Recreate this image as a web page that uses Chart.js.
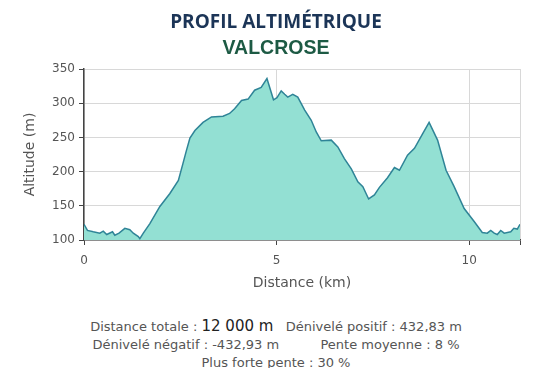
<!DOCTYPE html>
<html>
<head>
<meta charset="utf-8">
<script src="https://cdn.jsdelivr.net/npm/chart.js@4"></script>
<style>
  body { margin: 0; background: #fff; }
  #page { position: relative; width: 550px; height: 368px; overflow: hidden; }
  .title { position: absolute; left: 0; width: 552px; text-align: center; font-weight: bold; }
  #t1 { top: 8px; font-family: "Open Sans", sans-serif; font-size: 19px; color: #1c3557; }
  #t2 { top: 36px; font-family: "Liberation Sans", Arial, sans-serif; font-size: 19.5px; color: #1d5a44; }
  #wrap { position: absolute; left: 0; top: 0; width: 550px; height: 300px; }
  #stats { position: absolute; left: 0; top: 317px; width: 552px; text-align: center;
           font-family: "DejaVu Sans", Verdana, sans-serif; font-size: 13px; color: #555; line-height: 18px; }
  #stats b { font-weight: normal; font-size: 15px; color: #222; }
  #stats u { color: #555; }
</style>
</head>
<body>
<div id="page">
  <div id="wrap"><canvas id="profile" width="550" height="300"></canvas></div>
  <div class="title" id="t1">PROFIL ALTIMÉTRIQUE</div>
  <div class="title" id="t2">VALCROSE</div>
  <div id="stats">
    Distance totale : <b>12 000 m</b> &nbsp;&nbsp;Dénivelé positif : 432,83 m<br>
    Dénivelé négatif : -432,93 m &nbsp;&nbsp;&nbsp;&nbsp;&nbsp;&nbsp;&nbsp;&nbsp;&nbsp;Pente moyenne : 8 %<br>
    <u>&nbsp;Plus forte pente : 30 %&nbsp;</u>
  </div>
</div>
<script>
// distance (km) and altitude (m)
const distances = [0, 0.09, 0.24, 0.41, 0.5, 0.59, 0.74, 0.8, 0.91, 1.06, 1.19, 1.28, 1.41, 1.45, 1.54,
  1.71, 1.97, 2.23, 2.45, 2.57, 2.66, 2.75, 2.88, 3.09, 3.31, 3.61, 3.78, 3.91, 4.09, 4.26, 4.43, 4.6,
  4.75, 4.92, 5.01, 5.12, 5.21, 5.29, 5.42, 5.55, 5.73, 5.9, 6.03, 6.16, 6.42, 6.59, 6.76, 6.94, 7.11,
  7.24, 7.39, 7.54, 7.67, 7.88, 8.06, 8.19, 8.4, 8.58, 8.79, 8.96, 9.18, 9.4, 9.61, 9.87, 10.13, 10.34,
  10.47, 10.56, 10.65, 10.73, 10.82, 10.91, 11.08, 11.16, 11.25, 11.32];
const altitudes = [123, 114, 112, 110, 113, 108, 112, 107, 110, 117, 115, 110, 105, 102, 110,
  124, 149, 168, 187, 212, 231, 249, 260, 272, 280, 281, 285, 292, 304, 306, 319, 323,
  336, 305, 308, 318, 313, 309, 313, 309, 290, 275, 258, 245, 246, 236, 219, 204, 185,
  178, 160, 166, 177, 191, 206, 202, 224, 234, 255, 272, 246, 202, 178, 146, 127, 111,
  110, 114, 110, 108, 114, 110, 112, 117, 116, 123];
const xMax = 11.32;
const xTicks = [0, 5, 10];
const yTicks = [100, 150, 200, 250, 300, 350];

const points = distances.map((d, i) => ({ x: d, y: altitudes[i] }));
const tickFont = { family: "DejaVu Sans", size: 12 };

new Chart(document.getElementById("profile"), {
  type: "line",
  data: {
    datasets: [{
      data: points,
      borderColor: "#2f8497",
      borderWidth: 1.5,
      backgroundColor: "#93e0d3",
      fill: "start",
      pointRadius: 0,
      tension: 0
    }]
  },
  options: {
    responsive: false,
    animation: false,
    layout: { padding: { top: 69, left: 20, right: 30, bottom: 8 } },
    plugins: { legend: { display: false }, tooltip: { enabled: false } },
    scales: {
      x: {
        type: "linear",
        min: 0,
        max: xMax,
        afterFit: (s) => { s.height = 52; },
        // keep 0, 5, 10 plus an unlabelled tick at the right edge
        afterBuildTicks: (s) => { s.ticks = xTicks.concat([xMax]).map((v) => ({ value: v })); },
        ticks: {
          autoSkip: false,
          maxRotation: 0,
          padding: 9,
          color: "#555",
          font: tickFont,
          callback: (v) => (xTicks.includes(v) ? v : "")
        },
        grid: { color: "#d8d8d8", tickColor: "#444", tickLength: 5 },
        border: { color: "#444", width: 1.5 },
        title: { display: true, text: "Distance (km)", color: "#555",
                 font: { family: "DejaVu Sans", size: 14 }, padding: { top: 2, bottom: 0 } }
      },
      y: {
        min: yTicks[0],
        max: yTicks[yTicks.length - 1],
        afterFit: (s) => { s.width = 64; },
        afterBuildTicks: (s) => { s.ticks = yTicks.map((v) => ({ value: v })); },
        ticks: { padding: 4, color: "#555", font: tickFont },
        grid: { color: "#d8d8d8", tickColor: "#444", tickLength: 5 },
        border: { color: "#444", width: 1.5 },
        title: { display: true, text: "Altitude (m)", color: "#555",
                 font: { family: "DejaVu Sans", size: 14 }, padding: 2 }
      }
    }
  }
});
</script>
</body>
</html>
